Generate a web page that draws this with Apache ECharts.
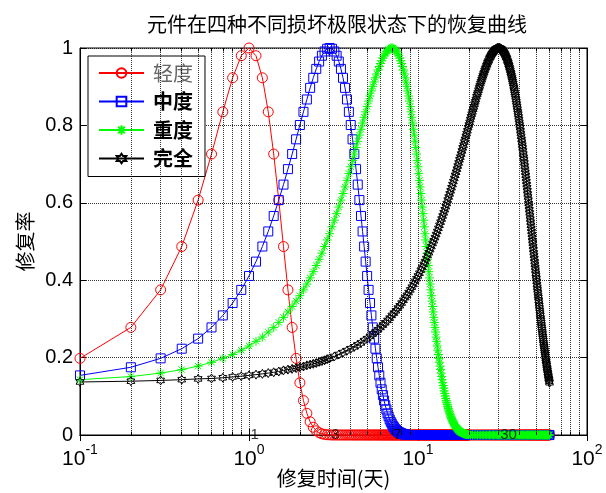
<!DOCTYPE html>
<html>
<head>
<meta charset="utf-8">
<script src="https://cdn.jsdelivr.net/npm/echarts@6/dist/echarts.min.js"></script>
<style>html,body{margin:0;padding:0;background:#fff}#c{width:606px;height:493px}</style>
</head>
<body>
<div id="c"></div>
<script>
// ---------------- data ----------------
const seriesNames = ['轻度', '中度', '重度', '完全'];

// 轻度: recovery rate at t = 0.1 … 3.0 days (step 0.1); 0 afterwards up to 60 d
const redY = [0.198,0.278,0.375,0.487,0.607,0.726,0.835,0.923,0.980,1.000,
  0.980,0.923,0.835,0.726,0.607,0.487,0.375,0.278,0.198,0.135,
  0.089,0.056,0.034,0.020,0.011,0.006,0.003,0.0015,0.0007,0.0003];

// 中度: t = 0.1 … 8.5 (step 0.1); 0 afterwards
const blueY = [0.154,0.175,0.198,0.223,0.249,0.278,0.309,0.341,0.375,0.411,
  0.448,0.487,0.526,0.566,0.607,0.647,0.687,0.726,0.764,0.801,
  0.835,0.867,0.897,0.923,0.946,0.965,0.980,0.991,0.998,1.000,
  0.998,0.991,0.980,0.965,0.946,0.923,0.897,0.867,0.835,0.801,
  0.764,0.726,0.687,0.647,0.607,0.566,0.526,0.487,0.448,0.411,
  0.375,0.341,0.309,0.278,0.249,0.223,0.198,0.175,0.154,0.135,
  0.118,0.103,0.089,0.077,0.066,0.056,0.048,0.040,0.034,0.029,
  0.024,0.020,0.016,0.0135,0.011,0.009,0.0074,0.006,0.0048,0.0039,
  0.0031,0.0025,0.0019,0.0015,0.0012];

// 重度: t = 0.1 … 20.0 (step 0.1); 0 afterwards
const greenY = [0.143,0.151,0.160,0.169,0.178,0.188,0.198,0.208,0.219,0.230,
  0.242,0.253,0.266,0.278,0.291,0.304,0.318,0.332,0.346,0.360,
  0.375,0.390,0.406,0.422,0.438,0.454,0.470,0.487,0.504,0.520,
  0.538,0.555,0.572,0.589,0.607,0.624,0.641,0.658,0.676,0.693,
  0.709,0.726,0.743,0.759,0.775,0.790,0.806,0.821,0.835,0.849,
  0.863,0.876,0.889,0.901,0.912,0.923,0.933,0.943,0.952,0.960,
  0.967,0.974,0.980,0.985,0.990,0.993,0.996,0.998,1.000,1.000,
  1.000,0.998,0.996,0.993,0.990,0.985,0.980,0.974,0.967,0.960,
  0.952,0.943,0.933,0.923,0.912,0.901,0.889,0.876,0.863,0.849,
  0.835,0.821,0.806,0.790,0.775,0.759,0.743,0.726,0.709,0.693,
  0.676,0.658,0.641,0.624,0.607,0.589,0.572,0.555,0.538,0.520,
  0.504,0.487,0.470,0.454,0.438,0.422,0.406,0.390,0.375,0.360,
  0.346,0.332,0.318,0.304,0.291,0.278,0.266,0.253,0.242,0.230,
  0.219,0.208,0.198,0.188,0.178,0.169,0.160,0.151,0.143,0.135,
  0.128,0.121,0.114,0.107,0.101,0.0946,0.0889,0.0835,0.0783,0.0734,
  0.0687,0.0643,0.0601,0.0561,0.0524,0.0489,0.0455,0.0424,0.0394,0.0367,
  0.0340,0.0316,0.0293,0.0272,0.0251,0.0233,0.0215,0.0198,0.0183,0.0169,
  0.0156,0.0143,0.0132,0.0121,0.0111,0.0102,0.0093,0.0086,0.0078,0.0072,
  0.0065,0.0060,0.0055,0.0050,0.0045,0.0041,0.0037,0.0034,0.0031,0.0028,
  0.0025,0.0023,0.0021,0.0019,0.0017,0.0015,0.0014,0.0012,0.0011,0.0010];

// 完全: t = 0.1 … 3.0 (step 0.1)
const blackYFine = [0.137,0.139,0.141,0.143,0.145,0.146,0.148,0.150,0.152,0.154,
  0.156,0.158,0.160,0.162,0.164,0.167,0.169,0.171,0.173,0.175,
  0.177,0.180,0.182,0.184,0.186,0.189,0.191,0.193,0.196,0.198];
// 完全: t = 3.2 … 60.0 (step 0.2)
const blackY = [0.203,0.208,0.213,0.218,0.223,0.228,0.233,0.238,0.244,0.249,
  0.255,0.261,0.266,0.272,0.278,0.284,0.290,0.296,0.302,0.309,
  0.315,0.321,0.328,0.334,0.341,0.348,0.355,0.361,0.368,0.375,
  0.382,0.389,0.397,0.404,0.411,0.418,0.426,0.433,0.441,0.448,
  0.456,0.464,0.471,0.479,0.487,0.495,0.502,0.510,0.518,0.526,
  0.534,0.542,0.550,0.558,0.566,0.574,0.582,0.590,0.598,0.607,
  0.615,0.623,0.631,0.639,0.647,0.655,0.663,0.671,0.679,0.687,
  0.695,0.703,0.711,0.718,0.726,0.734,0.742,0.749,0.757,0.764,
  0.772,0.779,0.786,0.794,0.801,0.808,0.815,0.822,0.829,0.835,
  0.842,0.848,0.855,0.861,0.867,0.874,0.880,0.885,0.891,0.897,
  0.902,0.908,0.913,0.918,0.923,0.928,0.933,0.937,0.942,0.946,
  0.950,0.954,0.958,0.962,0.965,0.968,0.972,0.975,0.977,0.980,
  0.983,0.985,0.987,0.989,0.991,0.993,0.994,0.996,0.997,0.998,
  0.999,0.999,1.000,1.000,
  1.000,
  1.000,1.000,0.999,0.999,
  0.998,0.997,0.996,0.994,0.993,0.991,0.989,0.987,0.985,0.983,
  0.980,0.977,0.975,0.972,0.968,0.965,0.962,0.958,0.954,0.950,
  0.946,0.942,0.937,0.933,0.928,0.923,0.918,0.913,0.908,0.902,
  0.897,0.891,0.885,0.880,0.874,0.867,0.861,0.855,0.848,0.842,
  0.835,0.829,0.822,0.815,0.808,0.801,0.794,0.786,0.779,0.772,
  0.764,0.757,0.749,0.742,0.734,0.726,0.718,0.711,0.703,0.695,
  0.687,0.679,0.671,0.663,0.655,0.647,0.639,0.631,0.623,0.615,
  0.607,0.598,0.590,0.582,0.574,0.566,0.558,0.550,0.542,0.534,
  0.526,0.518,0.510,0.502,0.495,0.487,0.479,0.471,0.464,0.456,
  0.448,0.441,0.433,0.426,0.418,0.411,0.404,0.397,0.389,0.382,
  0.375,0.368,0.361,0.355,0.348,0.341,0.334,0.328,0.321,0.315,
  0.309,0.302,0.296,0.290,0.284,0.278,0.272,0.266,0.261,0.255,
  0.249,0.244,0.238,0.233,0.228,0.223,0.218,0.213,0.208,0.203,
  0.198,0.193,0.189,0.184,0.180,0.175,0.171,0.167,0.162,0.158,
  0.154,0.150,0.146,0.143,0.139,0.135];

// text annotations placed on the time axis
const annotX = [1, 3, 7, 30];
const annotText = ['1', '3', '7', '30'];

// log-axis minor grid positions and exponent labels
const xMinor = [0.2,0.3,0.4,0.5,0.6,0.7,0.8,0.9,2,3,4,5,6,7,8,9,20,30,40,50,60,70,80,90];
const xMajorExp = ['-1', '0', '1', '2'];   // for 0.1, 1, 10, 100

// ---------------- helpers ----------------
function samples(start, step, ys) {
  return ys.map((y, i) => [Math.round((start + i * step) * 10) / 10, y]);
}
// recovery rate stays at 0 from `from` until 60 d
function zeroTail(from) {
  const out = [];
  for (let k = Math.round(from * 10); k <= 200; k++) out.push([k / 10, 0]);
  for (let k = 41; k <= 120; k++) { const t = k / 2; if (t >= from) out.push([t, 0]); }
  return out;
}

const redData = samples(0.1, 0.1, redY).concat(zeroTail(3.1));
const blueData = samples(0.1, 0.1, blueY).concat(zeroTail(8.6));
const greenData = samples(0.1, 0.1, greenY).concat(zeroTail(20.1));
const blackData = samples(0.1, 0.1, blackYFine).concat(samples(3.2, 0.2, blackY));

const LAT = "'Liberation Sans', Arial, sans-serif";
const CJK = "'Noto Sans CJK SC', sans-serif";

const STAR = 'path://M0 10L20 10M10 0L10 20M3 3L17 17M17 3L3 17';
const HEX = 'path://M10 0L12.89 5L18.66 5L15.77 10L18.66 15L12.89 15L10 20L7.11 15L1.34 15L4.23 10L1.34 5L7.11 5Z';

function curve(name, data, color, symbol, size) {
  return {
    name, type: 'line', data, symbol, symbolSize: size, symbolKeepAspect: true,
    showSymbol: true, showAllSymbol: true, clip: false, z: 3,
    lineStyle: { color, width: 1 },
    itemStyle: { color: 'rgba(0,0,0,0)', borderColor: color, borderWidth: 1 },
    emphasis: { disabled: true }
  };
}

const gridLine = { color: '#000', type: [1, 1], width: 1, opacity: 0.8 };

const option = {
  animation: false,
  backgroundColor: '#fff',
  title: {
    text: '元件在四种不同损坏极限状态下的恢复曲线',
    left: 142, top: 9,
    textStyle: { fontSize: 20, fontWeight: 'normal', fontFamily: CJK, color: '#000' }
  },
  grid: { left: 80, right: 19, top: 48, bottom: 58, show: true, borderColor: '#000', borderWidth: 1,
    backgroundColor: 'rgba(0,0,0,0)', containLabel: false, outerBoundsMode: 'none' },
  legend: {
    orient: 'vertical', left: 88, top: 56,
    padding: [6, 12, 7, 10], itemGap: 6.5, itemWidth: 45, itemHeight: 12,
    backgroundColor: '#fff', borderColor: '#000', borderWidth: 1,
    selectedMode: false,
    textStyle: { fontSize: 20, fontWeight: 'bold', color: '#000', fontFamily: CJK, lineHeight: 22, padding: [0, 0, 0, 4] },
    data: [
      { name: seriesNames[0], textStyle: { color: '#666', fontWeight: 'normal' } },
      { name: seriesNames[1] }, { name: seriesNames[2] }, { name: seriesNames[3] }
    ]
  },
  xAxis: [{
    type: 'log', logBase: 10, min: 0.1, max: 100, position: 'bottom',
    name: '修复时间(天)', nameLocation: 'middle', nameGap: 33, nameMoveOverlap: false,
    nameTextStyle: { fontSize: 20, fontFamily: CJK, color: '#000' },
    axisLine: { lineStyle: { color: '#000', width: 1 } },
    axisTick: { inside: true, length: 6, lineStyle: { color: '#000' } },
    splitLine: { show: true, lineStyle: gridLine },
    axisLabel: {
      margin: 8, showMinLabel: true, showMaxLabel: true, hideOverlap: false,
      formatter: v => {
        const e = Math.round(Math.log10(v));
        return '{b|10}{s|' + xMajorExp[e + 1] + '}';
      },
      rich: {
        b: { fontSize: 21, fontFamily: LAT, color: '#000', lineHeight: 33 },
        s: { fontSize: 14, fontFamily: LAT, color: '#000', lineHeight: 14, verticalAlign: 'top' }
      }
    }
  }, {
    type: 'log', logBase: 10, min: 0.1, max: 100, position: 'top',
    axisLine: { lineStyle: { color: '#000' } },
    axisTick: { inside: true, length: 6, lineStyle: { color: '#000' } },
    axisLabel: { show: false }, splitLine: { show: false }
  }],
  yAxis: [{
    type: 'value', min: 0, max: 1, interval: 0.2, position: 'left',
    name: '修复率', nameLocation: 'middle', nameGap: 45, nameMoveOverlap: false,
    nameTextStyle: { fontSize: 20, fontFamily: CJK, color: '#000' },
    axisLine: { show: true, lineStyle: { color: '#000' } },
    axisTick: { show: true, inside: true, length: 6, lineStyle: { color: '#000' } },
    splitLine: { show: true, lineStyle: gridLine },
    axisLabel: { margin: 7, fontSize: 20, fontFamily: LAT, color: '#000', formatter: v => String(+v.toFixed(1)) }
  }, {
    type: 'value', min: 0, max: 1, interval: 0.2, position: 'right',
    axisLine: { show: true, lineStyle: { color: '#000' } },
    axisTick: { show: true, inside: true, length: 6, lineStyle: { color: '#000' } },
    axisLabel: { show: false }, splitLine: { show: false }
  }],
  series: [
    {
      type: 'line', data: [], silent: true, z: 1, symbol: 'none',
      markLine: {
        silent: true, symbol: ['none', 'none'], label: { show: false }, animation: false,
        lineStyle: gridLine,
        data: xMinor.map(v => ({ xAxis: v }))
      }
    },
    {
      type: 'line', data: [], silent: true, z: 1, symbol: 'none',
      markLine: {
        silent: true, symbol: ['none', 'none'], label: { show: false }, animation: false,
        lineStyle: { color: '#000', type: 'solid', width: 1 },
        data: xMinor.flatMap(v => [[{ coord: [v, 0] }, { coord: [v, 0.009] }], [{ coord: [v, 1] }, { coord: [v, 0.991] }]])
      }
    },
    curve(seriesNames[0], redData, '#ff0000', 'circle', 10),
    curve(seriesNames[1], blueData, '#0000ff', 'rect', 9),
    curve(seriesNames[2], greenData, '#00ff00', STAR, 9),
    curve(seriesNames[3], blackData, '#000000', HEX, 9),
    {
      type: 'scatter', z: 5, silent: true, clip: false,
      symbolSize: 1, itemStyle: { color: 'rgba(0,0,0,0)' },
      labelLayout: { hideOverlap: false },
      data: annotX.map((x, i) => ({ value: [x, 0], label: { formatter: annotText[i] } })),
      label: { show: true, position: 'right', distance: 1, fontSize: 15, fontFamily: LAT, color: '#000' }
    }
  ]
};

const chart = echarts.init(document.getElementById('c'), null, { renderer: 'canvas' });
chart.setOption(option);
</script>
</body>
</html>
